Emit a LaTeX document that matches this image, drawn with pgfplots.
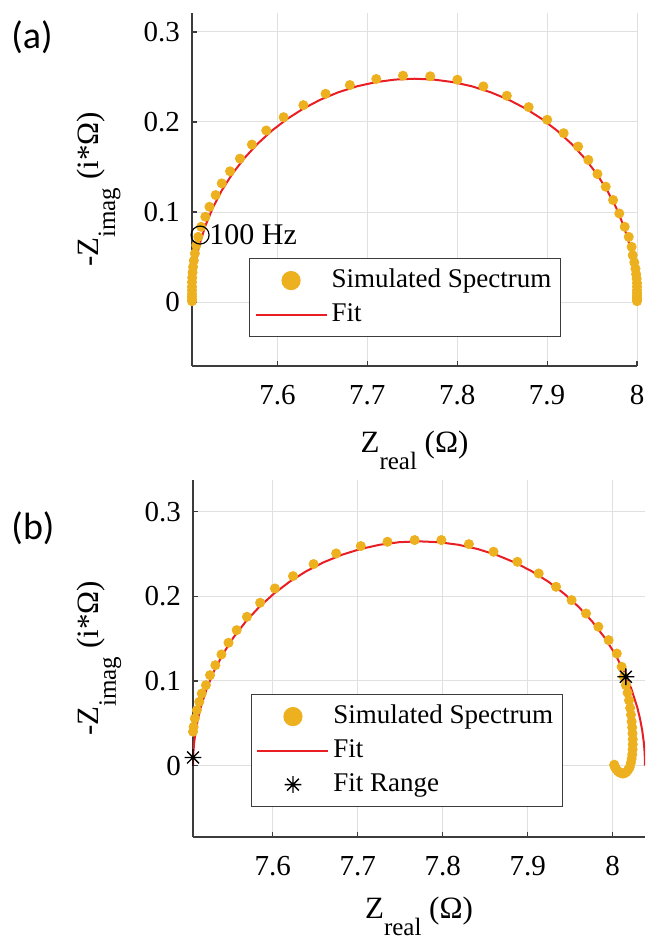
\documentclass[border=0pt]{standalone}
\usepackage{fontspec}
\setmainfont{Liberation Serif}
\newfontfamily\tnr{Liberation Serif}
\newfontfamily\panelfont{Carlito}
\usepackage{pgfplots}
\pgfplotsset{compat=1.18}

\definecolor{simorange}{RGB}{237,177,32}
\definecolor{fitred}{RGB}{232,30,36}
\definecolor{axgray}{RGB}{60,60,60}
\newcommand{\sub}[1]{\raisebox{-8.5pt}{\tnr\fontsize{12.5}{13}\selectfont #1}}

% matlab style '*' marker: plus and cross together
\pgfdeclareplotmark{mstar}{%
  \pgfpathmoveto{\pgfqpoint{-\pgfplotmarksize}{0pt}}\pgfpathlineto{\pgfqpoint{\pgfplotmarksize}{0pt}}%
  \pgfpathmoveto{\pgfqpoint{0pt}{-\pgfplotmarksize}}\pgfpathlineto{\pgfqpoint{0pt}{\pgfplotmarksize}}%
  \pgfpathmoveto{\pgfqpoint{-.7071\pgfplotmarksize}{-.7071\pgfplotmarksize}}%
  \pgfpathlineto{\pgfqpoint{.7071\pgfplotmarksize}{.7071\pgfplotmarksize}}%
  \pgfpathmoveto{\pgfqpoint{-.7071\pgfplotmarksize}{.7071\pgfplotmarksize}}%
  \pgfpathlineto{\pgfqpoint{.7071\pgfplotmarksize}{-.7071\pgfplotmarksize}}%
  \pgfusepathqstroke}

\pgfplotsset{
  nyq/.style={
    scale only axis,
    axis lines*=left,
    axis line style={axgray, line width=0.75pt},
    tick align=inside, major tick length=2.5pt,
    tick style={axgray, line width=0.6pt},
    grid=major, grid style={black!12, line width=0.5pt},
    xtick={7.6,7.7,7.8,7.9,8}, ytick={0,0.1,0.2,0.3},
    /pgf/number format/assume math mode=true,
    xticklabel={\tnr\pgfmathprintnumber{\tick}},
    yticklabel={\tnr\pgfmathprintnumber{\tick}},
    tick label style={font=\tnr\fontsize{14.5}{16}\selectfont},
    xticklabel style={yshift=-6pt},
    yticklabel style={xshift=-2.5pt},
    label style={font=\tnr\fontsize{15.5}{17}\selectfont},
    xlabel={\tnr Z\sub{real} (Ω)},
    ylabel={\tnr -Z\sub{imag} (i*Ω)},
    legend cell align=left,
    legend image code/.code={\draw[mark repeat=2,mark phase=2,##1] plot coordinates {(0pt,0pt) (17.75pt,0pt) (35.5pt,0pt)};},
    legend style={draw=axgray, line width=0.6pt, fill=white, anchor=north west,
      font=\tnr\fontsize{13.5}{15}\selectfont, inner sep=2.5pt, row sep=0pt,
      nodes={inner sep=2pt, text height=10pt, text depth=3pt}},
  },
  sim/.style={only marks, mark=*, mark size=2.3pt, color=simorange,
    legend image post style={mark size=4.5pt}},
  fit/.style={no marks, color=fitred, line width=1pt},
}

\begin{document}
\begin{tikzpicture}
\useasboundingbox (0,0) rectangle (322.5pt,-470.5pt);

% panel (a)
\begin{axis}[nyq,
  at={(96pt,-183pt)}, anchor=south west,
  width=222.5pt, height=176.5pt,
  xmin=7.505, xmax=8.0, ymin=-0.071, ymax=0.321,
  xlabel style={at={(axis description cs:0.5,0)}, anchor=base, yshift=-43pt},
  ylabel style={at={(axis description cs:-0.211,0.5)}, anchor=base},
  legend style={at={(rel axis cs:0.128,0.306)}},
]
\addplot[sim] coordinates {
  (7.505,0.001)(7.505,0.003)(7.505,0.006)(7.505,0.009)(7.505,0.013)(7.505,0.017)
  (7.505,0.022)(7.5052,0.027)(7.5056,0.033)(7.5062,0.039)(7.507,0.046)
  (7.5082,0.054)(7.5098,0.063)(7.512,0.0724)(7.5152,0.0836)(7.5198,0.0947)
  (7.5244,0.1058)(7.5313,0.1188)(7.5381,0.1318)(7.5473,0.1452)(7.5583,0.1593)
  (7.5716,0.1749)(7.5876,0.1905)(7.6069,0.2053)(7.6289,0.2187)(7.6536,0.2313)
  (7.6806,0.241)(7.71,0.2477)(7.7397,0.2514)(7.77,0.2507)(7.8002,0.2469)
  (7.8291,0.2395)(7.8552,0.2291)(7.8795,0.2165)(7.9001,0.2024)(7.9184,0.1875)
  (7.9345,0.1727)(7.9459,0.1578)(7.956,0.1422)(7.9652,0.1281)(7.9734,0.1133)
  (7.9803,0.0984)(7.9863,0.0836)(7.9908,0.0724)(7.994,0.0613)(7.9952,0.052)
  (7.997,0.044)(7.9983,0.037)(7.999,0.031)(7.9996,0.026)(8.0,0.021)
  (8.0,0.017)(8.0,0.013)(8.0,0.01)(8.0,0.007)(8.0,0.005)(8.0,0.003)(8.0,0.001)};
\addlegendentry{Simulated Spectrum}
\addplot[fit] coordinates {
  (7.505,0)(7.50504,0.00433)(7.50515,0.00866)(7.5056,0.0173)(7.50636,0.02592)
  (7.50805,0.03879)(7.51041,0.05156)(7.51343,0.06419)(7.51993,0.08482)
  (7.52819,0.10481)(7.53816,0.124)(7.54976,0.14225)(7.56291,0.15941)
  (7.57749,0.17536)(7.59341,0.18998)(7.61054,0.20315)(7.62875,0.21477)
  (7.6479,0.22476)(7.66785,0.2330)(7.68844,0.23955)(7.70952,0.24423)
  (7.73093,0.24706)(7.7525,0.248)(7.77407,0.24706)(7.79548,0.24423)
  (7.81656,0.23955)(7.83715,0.2330)(7.8571,0.22476)(7.87625,0.21477)
  (7.89446,0.20315)(7.91159,0.18998)(7.92751,0.17536)(7.94209,0.15941)
  (7.95524,0.14225)(7.96684,0.124)(7.97681,0.10481)(7.98507,0.08482)
  (7.99157,0.06419)(7.99459,0.05156)(7.99695,0.03879)(7.99864,0.02592)
  (7.9994,0.0173)(7.99985,0.00866)(7.99996,0.00433)(8.0,0)};
\addlegendentry{Fit}
\addplot[only marks, mark=o, mark size=4.5pt, black, line width=0.6pt, forget plot]
  coordinates {(7.514,0.0744)};
\node[anchor=west, inner sep=0pt, font=\tnr\fontsize{15}{16}\selectfont]
  at (axis cs:7.514,0.0744) [xshift=4.5pt] {100 Hz};
\end{axis}

% panel (b)
\begin{axis}[nyq,
  at={(96.5pt,-418.5pt)}, anchor=south west,
  width=226pt, height=178.5pt,
  xmin=7.506, xmax=8.038, ymin=-0.0845, ymax=0.3375,
  xlabel style={at={(axis description cs:0.5,0)}, anchor=base, yshift=-40.5pt},
  ylabel style={at={(axis description cs:-0.208,0.5)}, anchor=base},
  legend style={at={(rel axis cs:0.128,0.4006)}},
]
\addplot[sim] coordinates {
  (7.5056,0.003)(7.5056,0.0102)(7.5056,0.016)(7.5056,0.0221)(7.5057,0.028)
  (7.5058,0.0339)(7.506,0.04)(7.5067,0.0457)(7.5081,0.0556)(7.5105,0.0654)
  (7.5134,0.0753)(7.5163,0.0851)(7.5212,0.095)(7.526,0.1068)(7.5323,0.1186)
  (7.5395,0.1313)(7.5478,0.1451)(7.5574,0.16)(7.5695,0.1758)(7.585,0.1924)
  (7.6024,0.2093)(7.6237,0.2239)(7.6479,0.2381)(7.6745,0.2507)(7.7035,0.2594)
  (7.7349,0.2645)(7.7669,0.2665)(7.7983,0.2665)(7.8307,0.2617)(7.8597,0.2527)
  (7.8878,0.2408)(7.9129,0.227)(7.9333,0.2113)(7.9516,0.1955)(7.9686,0.1797)
  (7.9831,0.164)(7.9952,0.1482)(8.0048,0.1324)(8.0105,0.1167)(8.013,0.1049)
  (8.0155,0.095)(8.0175,0.086)(8.0192,0.077)(8.0205,0.068)(8.0215,0.06)
  (8.0223,0.052)(8.0229,0.045)(8.0233,0.038)(8.0236,0.031)(8.0236,0.025)
  (8.0234,0.019)(8.023,0.013)(8.0223,0.008)(8.0213,0.003)(8.02,-0.002)
  (8.0183,-0.005)(8.0163,-0.0075)(8.0142,-0.009)(8.012,-0.0095)(8.0098,-0.009)
  (8.0078,-0.008)(8.006,-0.0065)(8.0043,-0.0045)(8.003,-0.0025)
  (8.0021,-0.0005)(8.0018,0.001)};
\addlegendentry{Simulated Spectrum}
\addplot[fit] coordinates {
  (7.506,0)(7.50604,0.00462)(7.50616,0.00925)(7.50665,0.01849)(7.50746,0.0277)
  (7.50927,0.04145)(7.51181,0.0551)(7.51506,0.06859)(7.52204,0.09064)
  (7.53092,0.112)(7.54164,0.1325)(7.55411,0.152)(7.56823,0.17034)
  (7.58391,0.18738)(7.60102,0.203)(7.61943,0.21707)(7.639,0.2295)
  (7.65958,0.24017)(7.68102,0.24902)(7.70315,0.25597)(7.72581,0.26097)
  (7.74882,0.264)(7.772,0.265)(7.79518,0.264)(7.81819,0.26097)
  (7.84085,0.25597)(7.86298,0.24902)(7.88442,0.24017)(7.905,0.2295)
  (7.92457,0.21707)(7.94298,0.203)(7.96009,0.18738)(7.97577,0.17034)
  (7.98989,0.152)(8.00236,0.1325)(8.01308,0.112)(8.02196,0.09064)
  (8.02894,0.06859)(8.03219,0.0551)(8.03473,0.04145)(8.03654,0.0277)
  (8.03735,0.01849)(8.03784,0.00925)(8.03796,0.00462)(8.038,0)};
\addlegendentry{Fit}
\addplot[only marks, mark=mstar, mark size=4.2pt, black, line width=0.7pt]
  coordinates {(7.506,0.0095)(8.0155,0.1049)};
\addlegendentry{Fit Range}
\end{axis}

\node[font=\panelfont\fontsize{19}{20}\selectfont] at (16pt,-18.5pt) {(a)};
\node[font=\panelfont\fontsize{19}{20}\selectfont] at (16.5pt,-264pt) {(b)};
\end{tikzpicture}
\end{document}
